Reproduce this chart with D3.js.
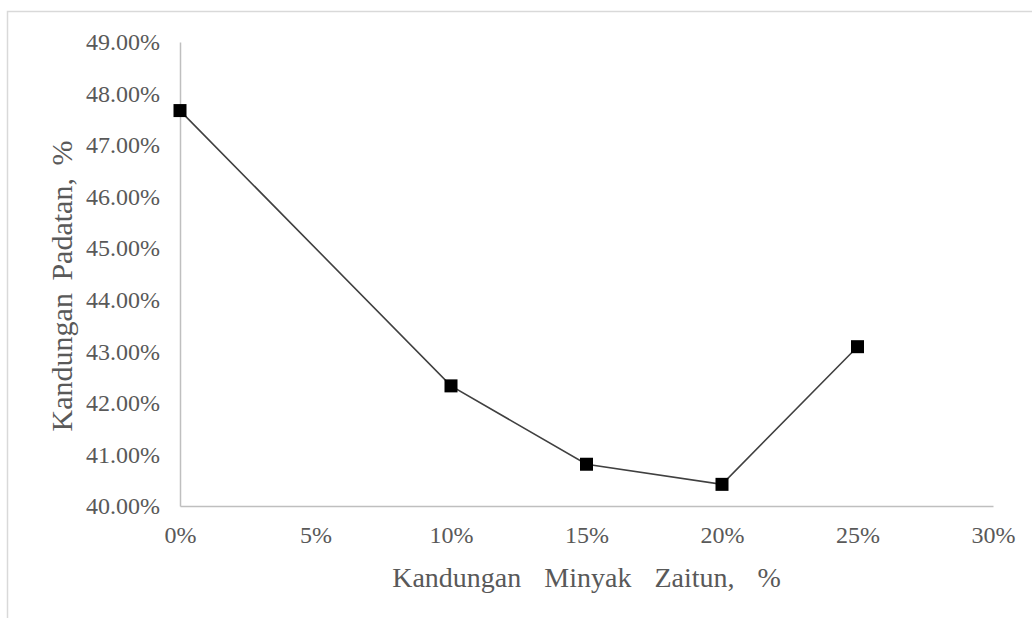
<!DOCTYPE html>
<html>
<head>
<meta charset="utf-8">
<script src="https://cdn.jsdelivr.net/npm/d3@7"></script>
<style>
  html, body { margin: 0; padding: 0; background: #fff; }
  #chart { width: 1032px; height: 618px; overflow: hidden; }
</style>
</head>
<body>
<div id="chart"></div>
<script>
// minyak zaitun content (x) and padatan content (y)
const minyakZaitun = [0, 0.10, 0.15, 0.20, 0.25];
const padatan = [0.4767, 0.4233, 0.4081, 0.4042, 0.4309];
const xTicks = [0, 0.05, 0.10, 0.15, 0.20, 0.25, 0.30];
const yTicks = [0.40, 0.41, 0.42, 0.43, 0.44, 0.45, 0.46, 0.47, 0.48, 0.49];
const labelX = "Kandungan Minyak Zaitun, %";
const labelY = "Kandungan Padatan, %";

const width = 1032, height = 618;
const plot = { left: 180, right: 993, top: 42, bottom: 506 };
const serif = "'Liberation Serif', Tinos, 'Times New Roman', 'DejaVu Serif', serif";

const svg = d3.select("#chart")
  .append("svg")
  .attr("width", width)
  .attr("height", height);

// outer chart border (runs off the right/bottom edge)
svg.append("rect")
  .attr("x", 7.5)
  .attr("y", 11.5)
  .attr("width", width + 20)
  .attr("height", height + 20)
  .attr("fill", "#fff")
  .attr("stroke", "#d9d9d9")
  .attr("stroke-width", 1.5);

const x = d3.scaleLinear()
  .domain([0, 0.30])
  .range([plot.left, plot.right]);

const y = d3.scaleLinear()
  .domain([0.40, 0.49])
  .range([plot.bottom, plot.top]);

svg.append("g")
  .attr("class", "axis")
  .attr("transform", `translate(${plot.left},0)`)
  .call(d3.axisLeft(y).tickValues(yTicks).tickFormat(d3.format(".2%")).tickSize(0).tickPadding(20));

svg.append("g")
  .attr("class", "axis")
  .attr("transform", `translate(0,${plot.bottom})`)
  .call(d3.axisBottom(x).tickValues(xTicks).tickFormat(d3.format(".0%")).tickSize(0).tickPadding(20));

svg.selectAll(".axis")
  .attr("font-family", serif)
  .attr("font-size", 24);

svg.selectAll(".axis .domain")
  .attr("stroke", "#bfbfbf")
  .attr("stroke-width", 1.5);

svg.selectAll(".axis text")
  .attr("fill", "#595959");

// line + square markers
const line = d3.line()
  .x((d, i) => x(minyakZaitun[i]))
  .y((d) => y(d));

svg.append("path")
  .datum(padatan)
  .attr("d", line)
  .attr("fill", "none")
  .attr("stroke", "#404040")
  .attr("stroke-width", 1.6);

const size = 13;
svg.append("g")
  .selectAll("rect")
  .data(padatan)
  .join("rect")
  .attr("x", (d, i) => x(minyakZaitun[i]) - size / 2)
  .attr("y", (d) => y(d) - size / 2)
  .attr("width", size)
  .attr("height", size)
  .attr("fill", "#000");

// axis titles
svg.append("text")
  .attr("x", (plot.left + plot.right) / 2)
  .attr("y", 587)
  .attr("text-anchor", "middle")
  .attr("font-family", serif)
  .attr("font-size", 28)
  .attr("fill", "#595959")
  .style("word-spacing", "16px")
  .text(labelX);

svg.append("text")
  .attr("transform", `translate(72,${(plot.top + plot.bottom) / 2 + 12}) rotate(-90)`)
  .attr("text-anchor", "middle")
  .attr("font-family", serif)
  .attr("font-size", 30)
  .attr("fill", "#595959")
  .style("word-spacing", "5px")
  .text(labelY);
</script>
</body>
</html>
